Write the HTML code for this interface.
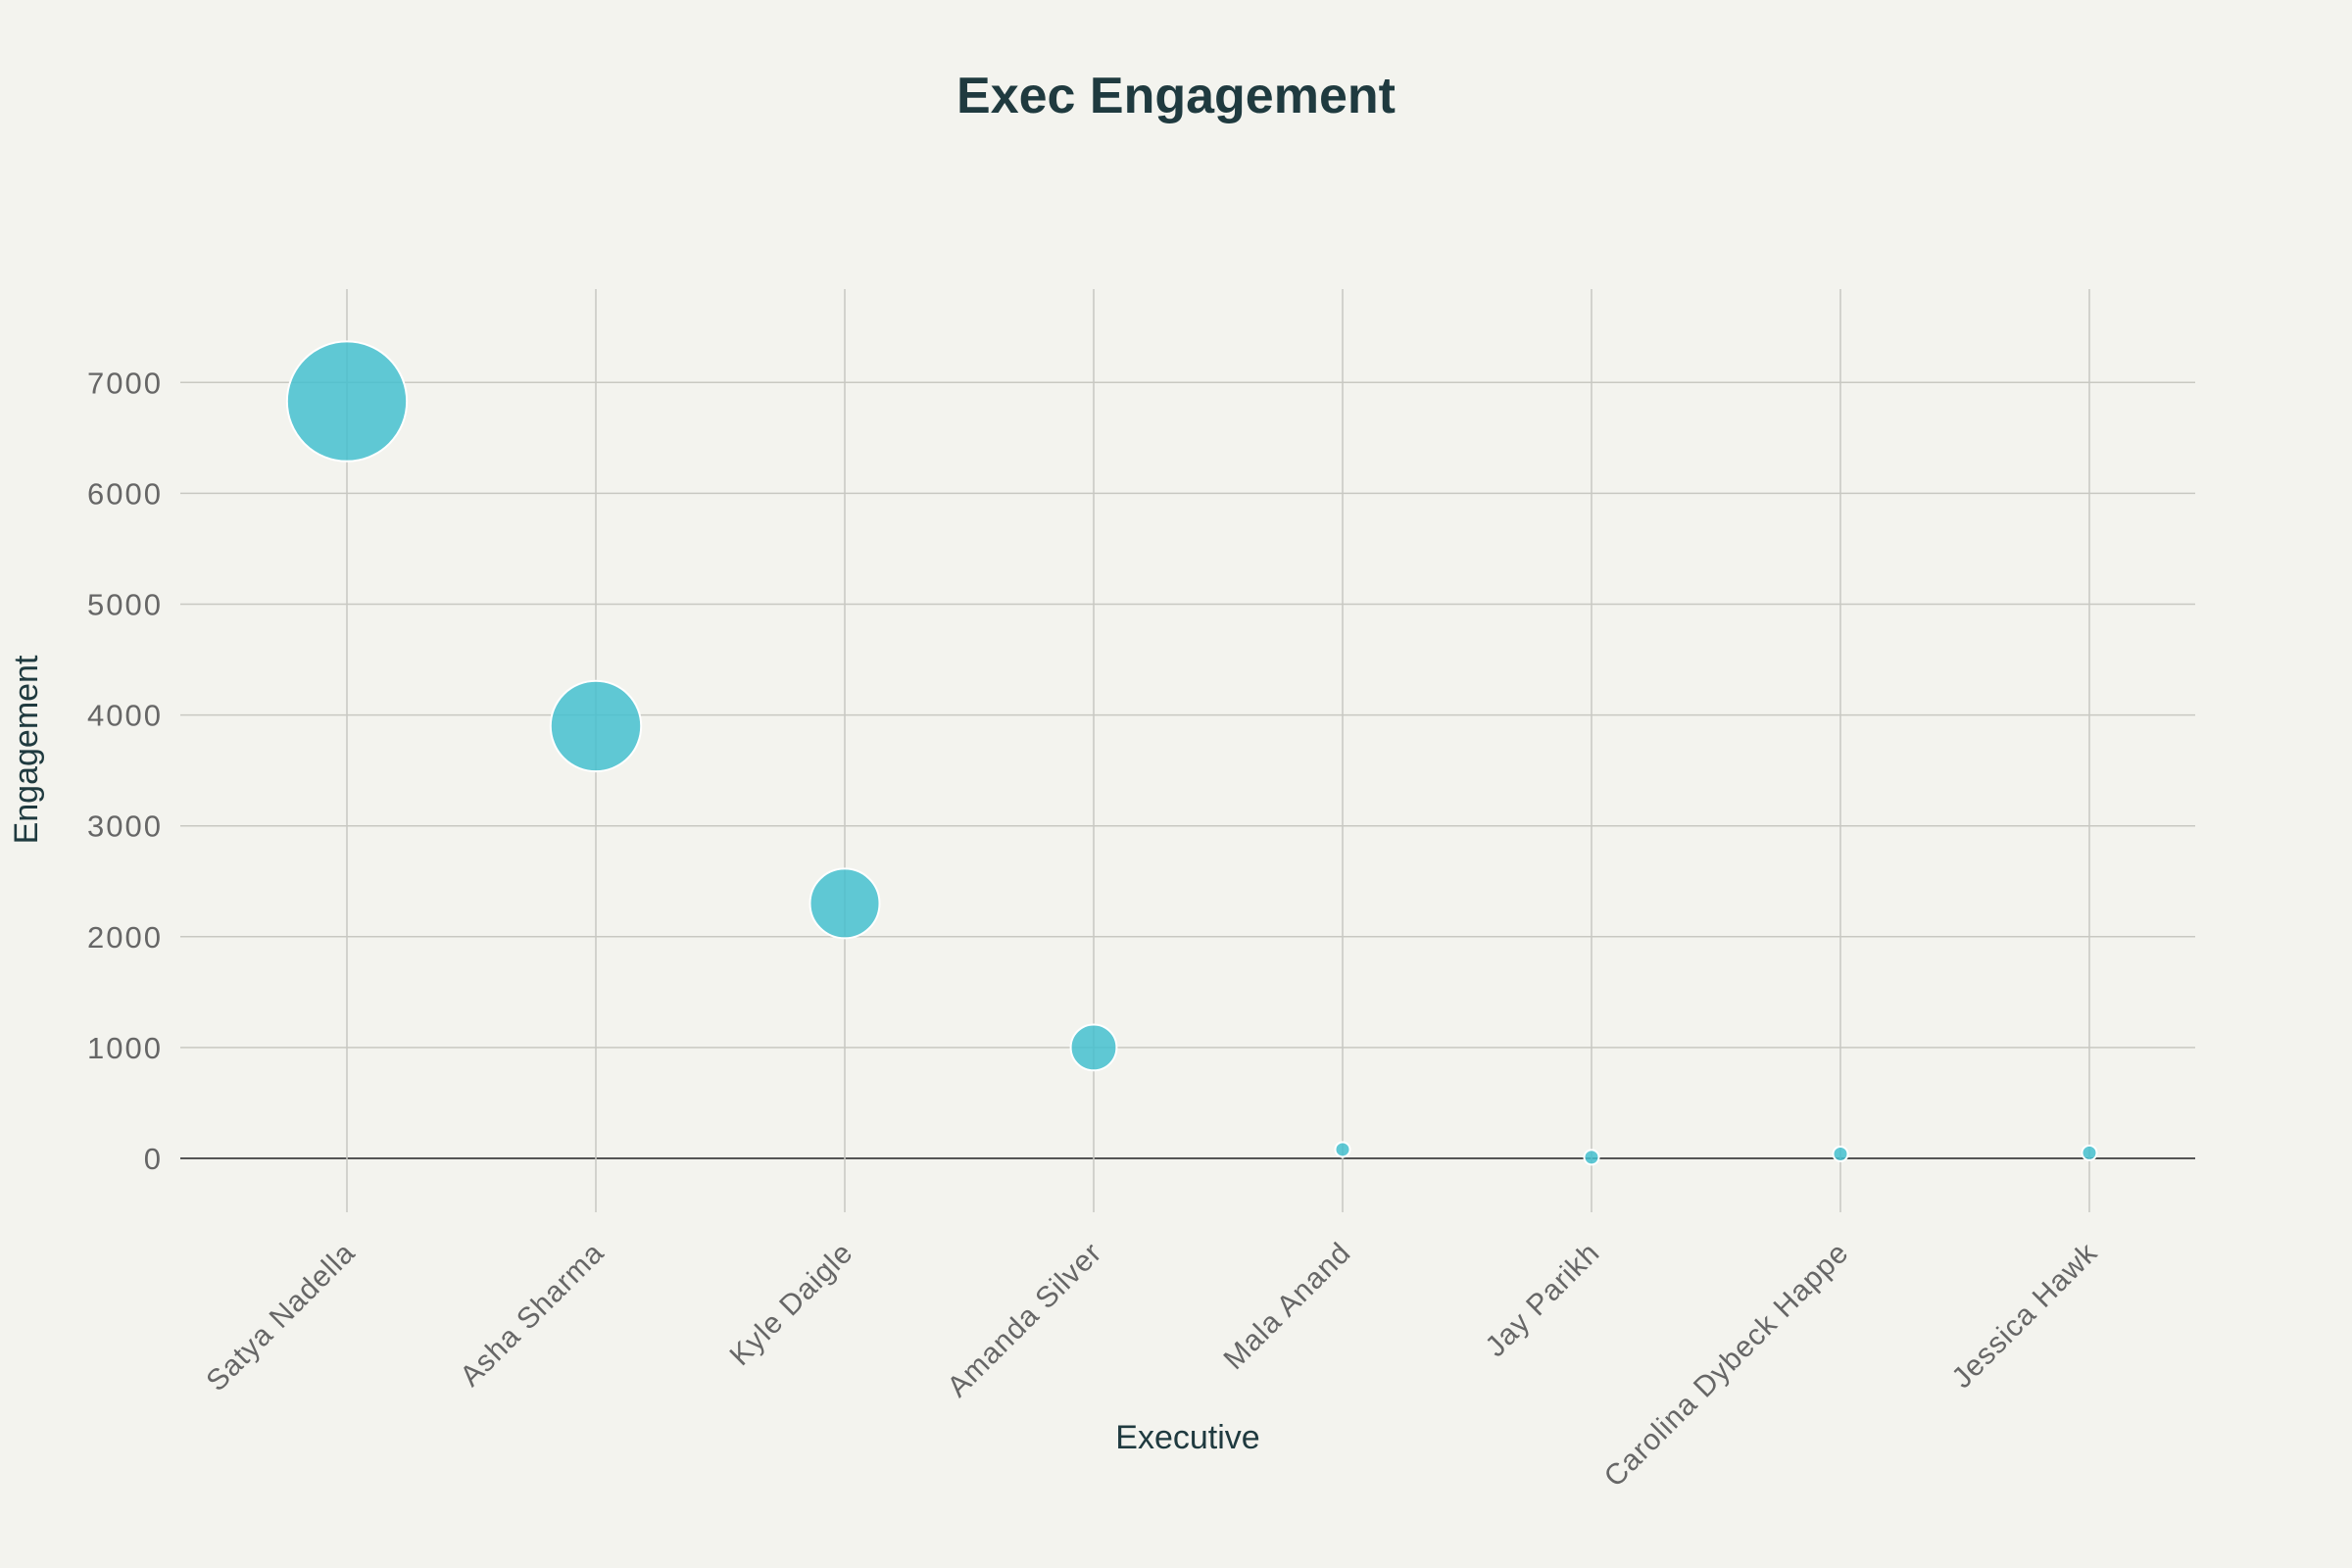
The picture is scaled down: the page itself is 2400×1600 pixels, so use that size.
<!DOCTYPE html>
<html><head><meta charset="utf-8"><style>
html,body{margin:0;padding:0;background:#f3f3ee;}
svg{display:block;font-family:"Liberation Sans",sans-serif;}
</style></head><body>
<svg id="chart" width="2400" height="1600" viewBox="0 0 2400 1600">
<rect width="2400" height="1600" fill="#f3f3ee"/>
<text x="1200" y="115" text-anchor="middle" font-size="52" font-weight="bold" fill="#1f3a3f">Exec Engagement</text>
<g id="grid"></g>
<g id="marks"></g>
<g id="labels"></g>
<text x="1212" y="1478" text-anchor="middle" font-size="34" fill="#1f3a3f">Executive</text>
<text transform="translate(38,765) rotate(-90)" text-anchor="middle" font-size="34" fill="#1f3a3f">Engagement</text>
</svg>
<script>
const categories=["Satya Nadella","Asha Sharma","Kyle Daigle","Amanda Silver","Mala Anand","Jay Parikh","Carolina Dybeck Happe","Jessica Hawk"];
const engagement=[6830,3900,2300,1000,80,10,40,50];
const yTicks=[0,1000,2000,3000,4000,5000,6000,7000];
const NS="http://www.w3.org/2000/svg";
const x0=184,x1=2240,yTop=295,yBot=1237;
function xs(i){return 354+i*254;}
function ys(v){return 1182-v*0.1131;}
function mk(t,a,p){const e=document.createElementNS(NS,t);for(const k in a)e.setAttribute(k,a[k]);p.appendChild(e);return e;}
const grid=document.getElementById('grid'),marks=document.getElementById('marks'),labels=document.getElementById('labels');
yTicks.forEach(v=>{
 const l=mk('line',{x1:x0,x2:x1,y1:ys(v),y2:ys(v),stroke:v===0?'#555':'#c8c8c2','stroke-width':v===0?2:1.5},grid);
 
 
 const t=mk('text',{x:166,y:ys(v)+11,'text-anchor':'end','font-size':31,'letter-spacing':2,fill:'#666'},labels);
 t.textContent=v;
 
 
});
categories.forEach((c,i)=>{
 const l=mk('line',{x1:xs(i),x2:xs(i),y1:yTop,y2:yBot,stroke:'#c8c8c2','stroke-width':1.5},grid);
 
 
 const t=mk('text',{transform:`translate(${xs(i)+10},${1280}) rotate(-45)`,'text-anchor':'end','font-size':30,'letter-spacing':1,fill:'#666'},labels);
 t.textContent=c;
 
 
});
engagement.forEach((v,i)=>{
 const r=Math.max(7.5,0.74*Math.sqrt(v));
 const b=mk('circle',{cx:xs(i),cy:ys(v),r:r,fill:'#44bfcf','fill-opacity':0.85,stroke:'#fff','stroke-width':2},marks);
 
 
});
</script>
</body></html>
